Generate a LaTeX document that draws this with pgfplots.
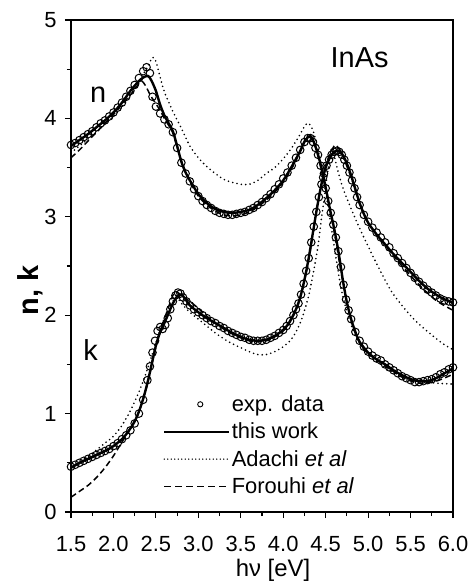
\documentclass[border=0pt]{standalone}
\usepackage{pgfplots}
\pgfplotsset{compat=1.18}
\usepackage{fontspec}
\setmainfont{Liberation Sans}

% this work
\pgfplotstableread{
E n
1.50 3.72
1.60 3.78
1.70 3.84
1.80 3.91
1.90 3.98
2.00 4.06
2.10 4.16
2.20 4.28
2.30 4.38
2.36 4.42
2.41 4.43
2.45 4.38
2.50 4.28
2.55 4.14
2.60 4.03
2.65 3.95
2.70 3.87
2.75 3.72
2.80 3.56
2.85 3.45
2.90 3.37
2.95 3.30
3.00 3.23
3.10 3.14
3.20 3.08
3.30 3.05
3.40 3.04
3.50 3.05
3.60 3.07
3.70 3.12
3.80 3.19
3.90 3.27
4.00 3.37
4.10 3.51
4.20 3.67
4.26 3.78
4.32 3.82
4.36 3.76
4.40 3.66
4.45 3.50
4.50 3.30
4.55 3.08
4.60 2.88
4.65 2.65
4.70 2.37
4.75 2.13
4.80 1.96
4.85 1.83
4.90 1.73
5.00 1.62
5.10 1.55
5.20 1.50
5.30 1.44
5.40 1.39
5.50 1.35
5.60 1.33
5.70 1.33
5.80 1.36
5.90 1.41
6.00 1.46
}\fitn
\pgfplotstableread{
E k
1.50 0.45
1.60 0.50
1.70 0.54
1.80 0.58
1.90 0.62
2.00 0.67
2.10 0.74
2.15 0.79
2.20 0.85
2.25 0.92
2.30 1.02
2.35 1.15
2.40 1.31
2.45 1.50
2.50 1.69
2.55 1.83
2.60 1.92
2.65 2.02
2.70 2.12
2.75 2.19
2.80 2.21
2.85 2.16
2.90 2.10
3.00 2.03
3.10 1.97
3.20 1.92
3.30 1.87
3.40 1.82
3.50 1.78
3.60 1.75
3.70 1.74
3.80 1.75
3.90 1.79
4.00 1.85
4.05 1.90
4.10 1.97
4.15 2.06
4.20 2.18
4.25 2.36
4.30 2.58
4.35 2.84
4.40 3.10
4.45 3.33
4.50 3.50
4.55 3.60
4.60 3.66
4.65 3.67
4.70 3.63
4.75 3.54
4.80 3.42
4.85 3.28
4.90 3.14
4.95 3.03
5.00 2.94
5.10 2.82
5.20 2.72
5.30 2.62
5.40 2.53
5.50 2.44
5.60 2.35
5.70 2.27
5.80 2.21
5.90 2.16
6.00 2.13
}\fitk

% experimental data
\pgfplotstableread{
E n
1.50 3.73
1.55 3.75
1.60 3.78
1.65 3.81
1.70 3.84
1.75 3.87
1.80 3.91
1.85 3.95
1.90 3.98
1.95 4.02
2.00 4.06
2.05 4.11
2.10 4.16
2.15 4.22
2.20 4.28
2.25 4.34
2.30 4.41
2.35 4.48
2.39 4.52
2.43 4.46
2.46 4.22
2.50 4.12
2.55 4.05
2.60 3.99
2.65 3.94
2.70 3.86
2.75 3.70
2.80 3.55
2.85 3.44
2.90 3.36
2.95 3.28
3.00 3.21
3.05 3.16
3.10 3.12
3.15 3.09
3.20 3.06
3.25 3.04
3.30 3.03
3.35 3.02
3.40 3.02
3.45 3.03
3.50 3.04
3.55 3.05
3.60 3.07
3.65 3.09
3.70 3.12
3.75 3.15
3.80 3.19
3.85 3.23
3.90 3.28
3.95 3.33
4.00 3.39
4.05 3.45
4.10 3.52
4.15 3.60
4.20 3.68
4.25 3.76
4.29 3.80
4.32 3.80
4.35 3.76
4.38 3.70
4.41 3.63
4.44 3.52
4.47 3.40
4.50 3.29
4.53 3.16
4.56 3.04
4.59 2.92
4.62 2.79
4.65 2.65
4.68 2.49
4.71 2.31
4.74 2.16
4.77 2.05
4.80 1.96
4.85 1.83
4.90 1.74
4.95 1.68
5.00 1.63
5.05 1.59
5.10 1.56
5.15 1.54
5.20 1.50
5.25 1.47
5.30 1.44
5.35 1.41
5.40 1.38
5.45 1.36
5.50 1.34
5.55 1.32
5.60 1.32
5.65 1.33
5.70 1.34
5.75 1.35
5.80 1.37
5.85 1.40
5.90 1.42
5.95 1.45
6.00 1.47
}\expn
\pgfplotstableread{
E k
1.50 0.46
1.55 0.48
1.60 0.50
1.65 0.52
1.70 0.54
1.75 0.56
1.80 0.58
1.85 0.60
1.90 0.62
1.95 0.64
2.00 0.67
2.05 0.70
2.10 0.74
2.15 0.78
2.20 0.83
2.25 0.90
2.30 1.00
2.35 1.14
2.40 1.34
2.43 1.48
2.46 1.62
2.49 1.74
2.52 1.84
2.55 1.88
2.58 1.86
2.61 1.90
2.64 1.97
2.67 2.06
2.70 2.14
2.73 2.20
2.76 2.23
2.79 2.22
2.82 2.18
2.86 2.14
2.90 2.10
2.95 2.06
3.00 2.03
3.05 2.00
3.10 1.97
3.15 1.94
3.20 1.92
3.25 1.89
3.30 1.87
3.35 1.84
3.40 1.82
3.45 1.80
3.50 1.78
3.55 1.77
3.60 1.75
3.65 1.74
3.70 1.74
3.75 1.74
3.80 1.75
3.85 1.77
3.90 1.79
3.95 1.82
4.00 1.85
4.04 1.89
4.08 1.94
4.12 2.00
4.15 2.06
4.18 2.12
4.21 2.21
4.24 2.32
4.27 2.45
4.30 2.58
4.33 2.74
4.36 2.90
4.39 3.05
4.42 3.20
4.45 3.33
4.48 3.44
4.51 3.52
4.54 3.58
4.57 3.63
4.60 3.66
4.63 3.67
4.66 3.66
4.69 3.63
4.72 3.58
4.75 3.52
4.78 3.45
4.81 3.37
4.84 3.29
4.87 3.20
4.90 3.12
4.95 3.02
5.00 2.95
5.05 2.89
5.10 2.84
5.15 2.79
5.20 2.74
5.25 2.69
5.30 2.63
5.35 2.58
5.40 2.53
5.45 2.48
5.50 2.43
5.55 2.38
5.60 2.34
5.65 2.30
5.70 2.26
5.75 2.23
5.80 2.20
5.85 2.17
5.90 2.15
5.95 2.14
6.00 2.13
}\expk

% Adachi et al
\pgfplotstableread{
E n
1.50 3.65
1.60 3.72
1.70 3.79
1.80 3.86
1.90 3.94
2.00 4.02
2.10 4.12
2.20 4.24
2.30 4.38
2.40 4.52
2.46 4.62
2.50 4.58
2.55 4.42
2.60 4.27
2.70 4.07
2.80 3.90
2.90 3.72
3.00 3.60
3.10 3.51
3.20 3.44
3.30 3.38
3.40 3.35
3.50 3.33
3.60 3.33
3.70 3.37
3.80 3.44
3.90 3.50
4.00 3.59
4.10 3.70
4.20 3.84
4.26 3.93
4.30 3.95
4.35 3.88
4.40 3.72
4.45 3.50
4.50 3.25
4.55 2.98
4.60 2.70
4.65 2.43
4.70 2.20
4.80 1.90
4.90 1.72
5.00 1.60
5.20 1.47
5.40 1.38
5.60 1.33
5.80 1.31
6.00 1.30
}\adan
\pgfplotstableread{
E k
1.50 0.44
1.60 0.50
1.70 0.56
1.80 0.63
1.90 0.70
2.00 0.77
2.10 0.88
2.20 1.03
2.30 1.22
2.40 1.45
2.50 1.72
2.60 1.97
2.70 2.14
2.75 2.18
2.80 2.12
2.90 2.03
3.00 1.96
3.10 1.89
3.20 1.82
3.30 1.76
3.40 1.71
3.50 1.67
3.60 1.63
3.70 1.60
3.80 1.60
3.90 1.63
4.00 1.68
4.10 1.76
4.20 1.92
4.30 2.20
4.40 2.65
4.45 2.98
4.50 3.30
4.55 3.62
4.58 3.70
4.62 3.55
4.70 3.30
4.85 2.98
5.00 2.70
5.15 2.44
5.30 2.21
5.55 1.95
5.85 1.73
6.00 1.65
}\adak

% Forouhi et al
\pgfplotstableread{
E n
1.50 3.60
1.60 3.68
1.70 3.77
1.80 3.86
1.90 3.95
2.00 4.04
2.10 4.14
2.20 4.24
2.28 4.33
2.33 4.38
2.38 4.33
2.42 4.26
2.46 4.20
2.50 4.15
2.55 4.08
2.60 4.00
2.65 3.93
2.70 3.85
2.80 3.57
2.90 3.36
3.00 3.21
3.10 3.12
3.20 3.06
3.30 3.02
3.40 3.01
3.50 3.02
3.60 3.05
3.70 3.10
3.80 3.17
3.90 3.25
4.00 3.35
4.10 3.49
4.20 3.66
4.26 3.77
4.31 3.81
4.36 3.75
4.40 3.65
4.50 3.28
4.60 2.85
4.70 2.35
4.80 1.95
4.90 1.72
5.00 1.61
5.20 1.49
5.40 1.37
5.60 1.31
5.80 1.33
6.00 1.40
}\forn
\pgfplotstableread{
E k
1.50 0.15
1.60 0.21
1.70 0.27
1.80 0.35
1.90 0.45
2.00 0.57
2.10 0.71
2.20 0.85
2.30 1.02
2.40 1.30
2.50 1.68
2.60 1.96
2.70 2.20
2.74 2.24
2.80 2.20
2.90 2.14
3.00 2.07
3.10 1.99
3.20 1.92
3.30 1.86
3.40 1.81
3.50 1.77
3.60 1.74
3.70 1.73
3.80 1.74
3.90 1.78
4.00 1.84
4.10 1.96
4.20 2.17
4.30 2.56
4.40 3.10
4.50 3.52
4.60 3.72
4.65 3.70
4.70 3.62
4.80 3.40
4.90 3.13
5.00 2.94
5.20 2.71
5.40 2.50
5.60 2.31
5.80 2.15
6.00 2.05
}\fork

\begin{document}
\begin{tikzpicture}
\begin{axis}[
    at={(0,0)}, anchor=south west,
    scale only axis,
    width=382bp, height=492bp,
    xmin=1.5, xmax=6, ymin=0, ymax=5,
    xtick={1.5,2,2.5,3,3.5,4,4.5,5,5.5,6},
    ytick={0,1,2,3,4,5},
    minor x tick num=1,
    minor y tick num=1,
    tick pos=left,
    tick align=outside,
    major tick length=6bp,
    minor tick length=4bp,
    every tick/.style={black, line width=1.2bp},
    axis line style={line width=1.4bp},
    x tick label style={/pgf/number format/.cd, fixed, fixed zerofill, precision=1, /tikz/.cd, inner sep=1bp, yshift=-17bp},
    y tick label style={xshift=-5bp},
    /pgf/number format/assume math mode=true,
    tick label style={font=\fontsize{22}{26}\selectfont},
    xlabel={hν [eV]},
    ylabel={n, k},
    xlabel style={font=\fontsize{24}{28}\selectfont, inner sep=1bp, anchor=base, at={(axis description cs:0.529,0)}, yshift=-64bp},
    ylabel style={font=\fontsize{29}{33}\selectfont\bfseries, at={(axis description cs:-0.107,0.45)}, anchor=center},
    legend style={at={(rel axis cs:0.241,0.240)}, anchor=north west, draw=none, fill=none,
        inner sep=0pt, row sep=7bp, font=\fontsize{22}{26}\selectfont,
        nodes={inner sep=1.5bp}},
    legend cell align=left,
]
\addplot[only marks, mark=o, mark size=3.8bp, mark options={line width=1bp},
    legend image code/.code={\draw[mark=o, mark size=2.6bp, mark options={line width=0.9bp}] plot coordinates {(36bp,0)};}]
    table[x=E, y=n] {\expn};
\addlegendentry{exp. data}
\addplot[only marks, mark=o, mark size=3.8bp, mark options={line width=1bp}, forget plot]
    table[x=E, y=k] {\expk};
\addplot[black, line width=2.4bp, smooth,
    legend image code/.code={\draw[black, line width=2bp] (0bp,0bp) -- (65bp,0bp);}]
    table[x=E, y=n] {\fitn};
\addlegendentry{this work}
\addplot[black, line width=2.4bp, smooth, forget plot] table[x=E, y=k] {\fitk};
\addplot[black, line width=1.8bp, line cap=round, dash pattern=on 0bp off 4.4bp, smooth,
    legend image code/.code={\draw[black, line width=1.5bp, line cap=round, dash pattern=on 0bp off 3.5bp] (0bp,0bp) -- (65bp,0bp);}]
    table[x=E, y=n] {\adan};
\addlegendentry{Adachi \textit{et al}}
\addplot[black, line width=1.8bp, line cap=round, dash pattern=on 0bp off 4.4bp, smooth, forget plot]
    table[x=E, y=k] {\adak};
\addplot[black, line width=1.5bp, dash pattern=on 6bp off 3.5bp, smooth,
    legend image code/.code={\draw[black, line width=1.5bp, dash pattern=on 7bp off 4bp] (0bp,0bp) -- (65bp,0bp);}]
    table[x=E, y=n] {\forn};
\addlegendentry{Forouhi \textit{et al}}
\addplot[black, line width=1.5bp, dash pattern=on 6bp off 3.5bp, smooth, forget plot]
    table[x=E, y=k] {\fork};
\node[font=\fontsize{29}{33}\selectfont] at (axis cs:1.82,4.24) {n};
\node[font=\fontsize{29}{33}\selectfont] at (axis cs:1.73,1.65) {k};
\node[font=\fontsize{29}{33}\selectfont] at (axis cs:4.90,4.62) {InAs};
\end{axis}
\pgfresetboundingbox
\path[use as bounding box] (-71bp,-69bp) rectangle (400bp,512bp);
\end{tikzpicture}
\end{document}
